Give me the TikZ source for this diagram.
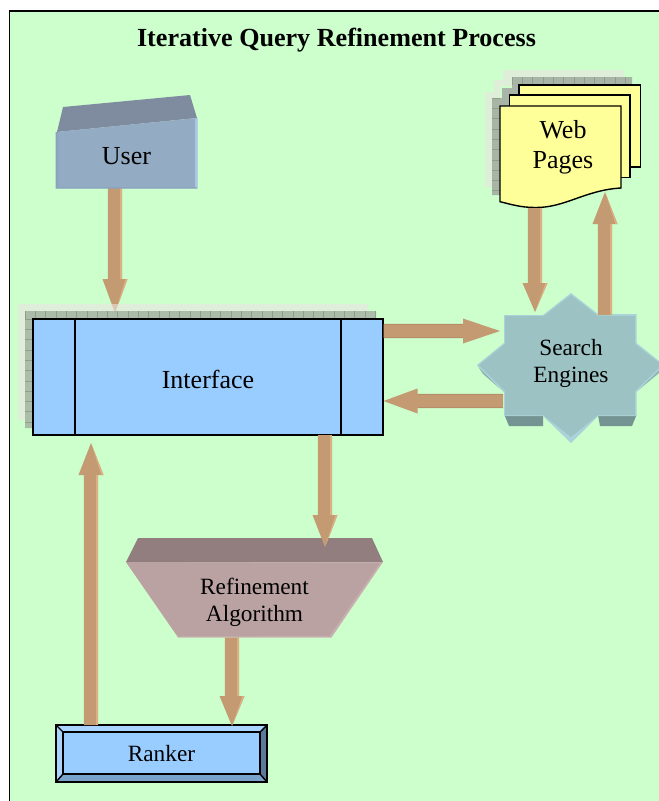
\documentclass[tikz,border=0pt]{standalone}
\usepackage{fontspec}
\setmainfont{Liberation Serif}
\usetikzlibrary{calc}
\pgfdeclarelayer{under}
\pgfdeclarelayer{shapes}
\pgfdeclarelayer{over}
\pgfsetlayers{under,shapes,over,main}
\definecolor{pagegreen}{HTML}{CCFFCC}
\definecolor{halo}{HTML}{EDE4E0}
\definecolor{shadowgrey}{HTML}{A8B5A6}
\definecolor{shadeline}{HTML}{8F9D8D}
\definecolor{arrowmain}{HTML}{C49A73}
\definecolor{arrowlight}{HTML}{DDB083}
\definecolor{arrowdark}{HTML}{B48C69}
\definecolor{boxblue}{HTML}{99CCFF}
\definecolor{note}{HTML}{FFFF99}
\definecolor{usertop}{HTML}{7F8B9F}
\definecolor{userface}{HTML}{94ABC4}
\definecolor{userlight}{HTML}{A9C6E6}
\definecolor{userdark}{HTML}{8BA3BD}
\definecolor{stardark}{HTML}{749393}
\definecolor{starmid}{HTML}{8FB3B4}
\definecolor{starlight}{HTML}{A9D3D8}
\definecolor{starface}{HTML}{9CC2C3}
\definecolor{reftop}{HTML}{927E7E}
\definecolor{reflight}{HTML}{C9B0B0}
\definecolor{refface}{HTML}{BAA2A2}
\definecolor{ranklight}{HTML}{A8D4FF}
\definecolor{rankdark}{HTML}{5B7A99}
\definecolor{rankmid}{HTML}{7AA3CC}
\tikzset{
  box/.style={inner sep=0pt,outer sep=0pt,align=center,text=black},
  bigtext/.style={font=\fontsize{26}{30}\selectfont},
  midtext/.style={font=\fontsize{23.3}{27}\selectfont},
  outline/.style={draw=black,line width=1.4pt,line join=miter},
  shadowline/.style={draw=shadeline,line width=.5pt},
}
% start, end, head length
\newcommand\barrowbase[3]{%
  \coordinate (as) at (#1);
  \coordinate (ae) at (#2);
  \coordinate (ab) at ($(ae)!#3pt!(as)$);
  \fill[arrowmain] ($(as)!7.2pt!90:(ae)$) -- ($(ab)!7.2pt!90:(ae)$) -- ($(ab)!12.5pt!90:(ae)$) -- (ae) -- ($(ab)!12.5pt!-90:(ae)$) -- ($(ab)!7.2pt!-90:(ae)$) -- ($(as)!7.2pt!-90:(ae)$) -- cycle;
}
% vertical arrow: light right-hand side (#4 = 90 going down, -90 going up)
\newcommand\barrow[4]{%
  \barrowbase{#1}{#2}{#3}
  \fill[arrowlight] ($(as)!7.2pt!#4:(ae)$) -- ($(ab)!7.2pt!#4:(ae)$) -- ($(ab)!4.7pt!#4:(ae)$) -- ($(as)!4.7pt!#4:(ae)$) -- cycle;
  \fill[arrowlight] ($(ab)!12.5pt!#4:(ae)$) -- (ae) -- ($(ab)!10.5pt!#4:(ae)$) -- cycle;
}
% horizontal arrow: thin darker rims
\newcommand\barrowh[3]{%
  \barrowbase{#1}{#2}{#3}
  \fill[arrowdark] ($(as)!7.2pt!90:(ae)$) -- ($(ab)!7.2pt!90:(ae)$) -- ($(ab)!6pt!90:(ae)$) -- ($(as)!6pt!90:(ae)$) -- cycle;
  \fill[arrowdark] ($(as)!7.2pt!-90:(ae)$) -- ($(ab)!7.2pt!-90:(ae)$) -- ($(ab)!6pt!-90:(ae)$) -- ($(as)!6pt!-90:(ae)$) -- cycle;
  \fill[arrowlight] ($(ab)!7.2pt!90:(ae)$) -- ($(ab)!12.5pt!90:(ae)$) -- ($(ab)!12.5pt!90:(ae)$) ++(2pt,0pt) -- cycle;
}
\begin{document}
\begin{tikzpicture}[x=1pt,y=-1pt]
\useasboundingbox (0,0) rectangle (659,801);
% text nodes
\node[box,font=\fontsize{26.1}{30}\selectfont\bfseries] (title) at (336.5,40) {Iterative Query Refinement Process};
\node[box,bigtext,minimum width=141pt,minimum height=68pt] (user) at (126.5,156) {User};
\node[box,bigtext,minimum width=350pt,minimum height=116pt] (iface) at (208,379) {Interface};
\node[box,bigtext,minimum width=126pt,minimum height=78pt] (web) at (563,147) {Web\\Pages};
\node[box,midtext,minimum width=186pt,minimum height=136pt] (search) at (571,363) {Search\\Engines};
\node[box,midtext,minimum width=257pt,minimum height=75pt] (refine) at (254.5,602) {Refinement\\Algorithm};
\node[box,midtext,minimum width=211pt,minimum height=57pt] (ranker) at (161.5,753.5) {Ranker};

\begin{pgfonlayer}{under}
\fill[pagegreen] (10,11) rectangle (659,801);
\draw[black,line width=1.3pt] (9.5,801) -- (9.5,11) -- (659,11);
\barrow{[shift={(-11.5pt,2pt)}]user.south}{[shift={(-93pt,8pt)}]iface.north}{34}{90}
\end{pgfonlayer}

\begin{pgfonlayer}{shapes}
% interface shadow
\fill[halo,opacity=.6] (18,304) -- (368,304) -- (368,311) -- (25,311) -- (25,420) -- (18,420) -- cycle;
\fill[shadowgrey,opacity=.9] (25,311) -- (376,311) -- (376,319) -- (33,319) -- (33,428) -- (25,428) -- cycle;
\foreach \i in {0,...,34} \draw[shadowline] (25+\i*10.3,311) -- (25+\i*10.3,319);
\draw[shadowline] (25,319) -- (33,319);
\foreach \i in {1,...,10} \draw[shadowline] (25,319+\i*10.3) -- (33,319+\i*10.3);
\draw[fill=boxblue,outline] (33,319) rectangle (383,435);
\draw[outline] (75,319) -- (75,435) (341,319) -- (341,435);
% user
\fill[usertop] (63,107) -- (190,95) -- (197,118) -- (57,132) -- cycle;
\fill[userface] (56,132) -- (197,118) -- (197,188) -- (56,188) -- cycle;
\fill[userlight] (195,118.5) -- (197.5,118) -- (197.5,188.5) -- (195,187) -- cycle;
\fill[userdark] (55.5,132) -- (58,132) -- (58,187) -- (196,187) -- (197.5,188.5) -- (55.5,188.5) -- cycle;
% web pages shadow
\fill[halo,opacity=.6] (485,187) -- (485,92) -- (494,92) -- (494,80) -- (503,80) -- (503,70) -- (624,70) -- (624,86) -- (500,86) -- (500,187) -- cycle;
\fill[shadowgrey] (492,195) -- (492,98) -- (502,98) -- (502,88) -- (512,88) -- (512,77) -- (632,77) -- (632,86) -- (519,86) -- (519,106) -- (500,106) -- (500,195) -- cycle;
\foreach \i in {0,...,11} \draw[shadowline] (512+\i*10.3,77) -- (512+\i*10.3,85);
\foreach \i in {0,...,9} \draw[shadowline] (492,98+\i*10.3) -- (500,98+\i*10.3);
% pages
\draw[fill=note,outline] (519,85) -- (640.3,85) -- (640.3,167) -- (519,167) -- cycle;
\draw[fill=note,outline] (509.7,95) -- (630,95) -- (630,177.7) -- (509.7,177.7) -- cycle;
\draw[fill=note,outline] (500,106) -- (621,106) -- (621,188) .. controls (585,190) and (565,208) .. (535,207.5) .. controls (520,207.5) and (510,204) .. (500,201.7) -- cycle;
% search star
\fill[stardark] (504.5,415) -- (509,426) -- (543,426) -- (543,415) -- cycle (598,415) -- (600,426) -- (632,426) -- (636.5,415) -- cycle;
\fill[starmid] (477,365) -- (483,374) -- (504,392) -- cycle (664,365) -- (658,374) -- (636,392) -- cycle;
\fill[starlight] (571,293) -- (543,315) -- (504,315) -- (504,343) -- (477,365) -- (504,392) -- (504,416) -- (543,416) -- (571,443) -- (598,416) -- (636.5,416) -- (636.5,392) -- (664,365) -- (636.5,343) -- (636.5,314) -- (598,314) -- cycle;
\fill[starface] (571,295) -- (544,316) -- (505,316) -- (505,344) -- (479,365) -- (505,391) -- (505,415) -- (543,415) -- (571,437) -- (598,415) -- (635,415) -- (635,391) -- (662,365) -- (635,344) -- (635,316) -- (598,316) -- cycle;
% refinement trapezoid
\fill[reftop] (138,538) -- (372,538) -- (383,562) -- (126,562) -- cycle;
\fill[reflight] (126,562) -- (383,562) -- (331.5,637.5) -- (178,637.5) -- cycle;
\fill[refface] (126,562) -- (380,563) -- (329.5,636) -- (178,636.5) -- cycle;
% ranker
\fill[ranklight] (56,725) -- (267,725) -- (260,732) -- (63,732) -- (63,774) -- (56,782) -- cycle;
\fill[rankdark] (267,725) -- (267,782) -- (260,774) -- (260,732) -- cycle;
\fill[rankmid] (56,782) -- (267,782) -- (260,774) -- (63,774) -- cycle;
\draw[fill=boxblue,outline] (63,732) rectangle (260,774);
\draw[outline] (56,725) rectangle (267,782);
\draw[outline] (56,725) -- (63,732) (267,725) -- (260,732) (56,782) -- (63,774) (267,782) -- (260,774);
\end{pgfonlayer}

\begin{pgfonlayer}{over}
\barrow{[shift={(-28pt,-22pt)}]web.south}{[shift={(-36pt,-17pt)}]search.north}{29}{90}
\barrow{[shift={(34pt,-20pt)}]search.north}{[shift={(42pt,-6pt)}]web.south}{32}{-90}
\barrowh{[shift={(0.5pt,48pt)}]iface.east}{[shift={(22pt,32pt)}]search.west}{37}
\barrowh{[shift={(25pt,-38pt)}]search.west}{[shift={(0.5pt,-22pt)}]iface.east}{34}
\barrow{[shift={(117pt,2pt)}]iface.south}{[shift={(70.5pt,17.5pt)}]refine.north}{32}{90}
\barrow{[shift={(-22.5pt,2pt)}]refine.south}{[shift={(70.5pt,-1pt)}]ranker.north}{30}{90}
\barrow{[shift={(-70.5pt,0pt)}]ranker.north}{[shift={(-117pt,-6pt)}]iface.south}{32}{-90}
\end{pgfonlayer}
\end{tikzpicture}
\end{document}
